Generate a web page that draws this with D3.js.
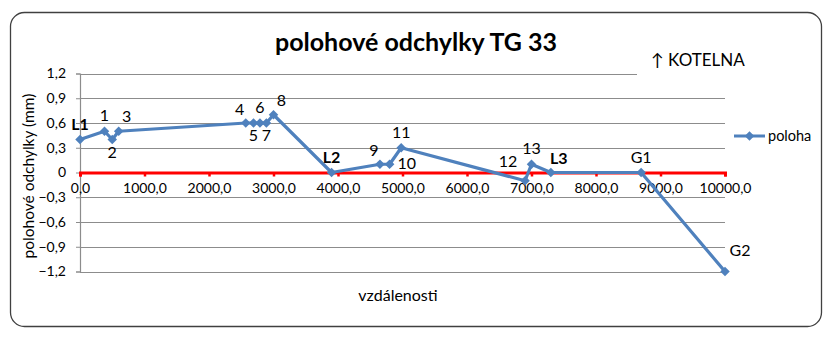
<!DOCTYPE html>
<html><head><meta charset="utf-8">
<script src="https://cdn.jsdelivr.net/npm/d3@7/dist/d3.min.js"></script>
<style>body{margin:0;background:#fff}svg{display:block}</style>
</head><body><svg id="c" width="834" height="348"></svg>
<script>
const distances = [0, 380, 500, 600, 2570, 2690, 2790, 2890, 3000, 3900, 4650, 4800, 4980, 6900, 7000, 7300, 8700, 10000];
const poloha    = [0.4, 0.5, 0.4, 0.5, 0.6, 0.6, 0.6, 0.6, 0.7, 0, 0.1, 0.1, 0.3, -0.1, 0.1, 0, 0, -1.2];
const pointLabels = ["L1","1","2","3","4","5","6","7","8","L2","9","10","11","12","13","L3","G1","G2"];
const labelPlace  = ["a","a","b","ar","al","b","a","b","ar","a","al","r","a","l","a","ar","a","far"];
const boldLabels = ["L1","L2","L3"];
const xTicks = [0,1000,2000,3000,4000,5000,6000,7000,8000,9000,10000];
const yTicks = [-1.2,-0.9,-0.6,-0.3,0,0.3,0.6,0.9,1.2];
const title = "polohové odchylky TG 33";
const xTitle = "vzdálenosti";
const yTitle = "polohové odchylky (mm)";
const seriesName = "poloha";
const note = "↑ KOTELNA";

const svg = d3.select("#c");
const F = "Lato, 'Open Sans', sans-serif";
const blue = "#4F81BD";
const x = d3.scaleLinear().domain([0,10000]).range([80,725]);
const y = d3.scaleLinear().domain([-1.2,1.2]).range([271.5,73.5]);
const fmt = v => d3.format(".1f")(v).replace(".", ",");

// chart border
svg.append("rect").attr("x",10.5).attr("y",12.5).attr("width",811).attr("height",314)
  .attr("rx",14).attr("fill","#fff").attr("stroke","#404040").attr("stroke-width",1.3);

// gridlines
svg.append("g").selectAll("line").data(yTicks.filter(d=>d!==0)).join("line")
  .attr("x1",x(0)).attr("x2",x(10000)).attr("y1",d=>Math.round(y(d))+0.5).attr("y2",d=>Math.round(y(d))+0.5)
  .attr("stroke","#8c8c8c").attr("stroke-width",1.2);

// y axis
const yAxis = d3.axisLeft(y).tickValues(yTicks).tickFormat(d=> d===0 ? "0" : fmt(d)).tickSize(4).tickPadding(10);
const gy = svg.append("g").attr("transform",`translate(${x(0)},0)`).call(yAxis);
gy.select(".domain").attr("stroke","#8c8c8c").attr("stroke-width",1.2);
gy.selectAll(".tick line").attr("stroke","#8c8c8c");
gy.selectAll("text").attr("font-family",F).attr("font-size",14).attr("fill","#000");

// x axis at zero
const xAxis = d3.axisBottom(x).tickValues(xTicks).tickFormat(fmt).tickSize(4).tickPadding(7);
const gx = svg.append("g").attr("transform",`translate(0,${y(0)})`).call(xAxis);
gx.select(".domain").attr("stroke","#ff0000").attr("stroke-width",3);
gx.selectAll(".tick line").attr("stroke","#ff0000").attr("stroke-width",2.5);
gx.selectAll("text").attr("font-family",F).attr("font-size",14).attr("fill","#000");

// series
const pts = distances.map((d,i)=>({x:d,y:poloha[i],l:pointLabels[i],p:labelPlace[i]}));
svg.append("path").datum(pts)
  .attr("d", d3.line().x(d=>x(d.x)).y(d=>y(d.y)))
  .attr("fill","none").attr("stroke",blue).attr("stroke-width",3.2).attr("stroke-linejoin","round");
svg.append("g").selectAll("path").data(pts).join("path")
  .attr("transform",d=>`translate(${x(d.x)},${y(d.y)})`)
  .attr("d", d3.symbol(d3.symbolDiamond2, 58)).attr("fill",blue);

// data labels
const off = {a:[0,-10], b:[0,18], r:[8,5], ar:[8,-9], al:[-6,-8], l:[-17,-14], far:[15,-16]};
svg.append("g").selectAll("text").data(pts).join("text")
  .attr("x",d=>x(d.x)+off[d.p][0]).attr("y",d=>y(d.y)+off[d.p][1])
  .attr("text-anchor", d=> d.p==="r" ? "start" : "middle")
  .attr("font-family",F).attr("font-size",16)
  .attr("font-weight",d=>boldLabels.includes(d.l)?"bold":"normal")
  .text(d=>d.l);

// title
svg.append("text").attr("x",416).attr("y",51).attr("text-anchor","middle")
  .attr("font-family",F).attr("font-weight","bold").attr("font-size",25).text(title);

// note box
svg.append("rect").attr("x",637).attr("y",46).attr("width",120).attr("height",30).attr("fill","#fff");
svg.append("text").attr("x",651).attr("y",66).attr("font-family",F).attr("font-size",17).text(note);

// axis titles
svg.append("text").attr("x",398).attr("y",301).attr("text-anchor","middle")
  .attr("font-family",F).attr("font-size",16).text(xTitle);
svg.append("text").attr("transform",`translate(34,${(90+262)/2}) rotate(-90)`).attr("text-anchor","middle")
  .attr("font-family",F).attr("font-size",15.5).text(yTitle);

// legend
const lg = svg.append("g").attr("transform","translate(734,136)");
lg.append("line").attr("x1",0).attr("x2",31).attr("stroke",blue).attr("stroke-width",3);
lg.append("path").attr("transform","translate(15.5,0)").attr("d",d3.symbol(d3.symbolDiamond2,58)).attr("fill",blue);
lg.append("text").attr("x",34).attr("y",5).attr("font-family",F).attr("font-size",14.5).text(seriesName);
</script></body></html>
